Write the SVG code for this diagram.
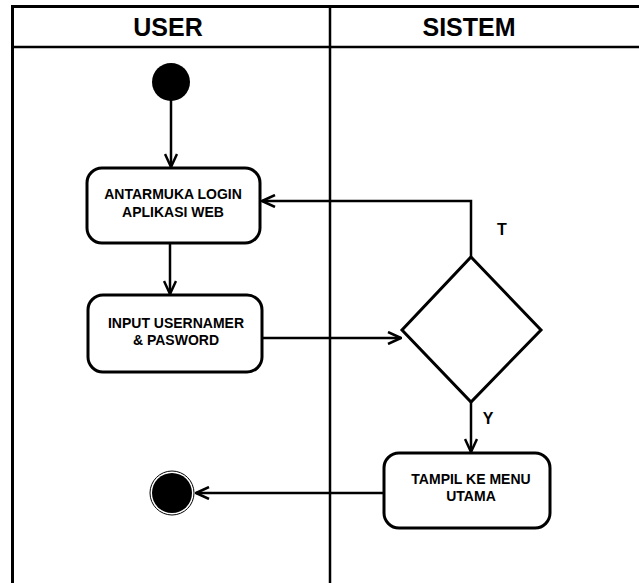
<svg xmlns="http://www.w3.org/2000/svg" width="639" height="583" viewBox="0 0 639 583">
  <style>
    .frame { fill: none; stroke: #000; stroke-width: 3; }
    .lane { fill: none; stroke: #000; stroke-width: 2.5; }
    .hdr { font-family: "Liberation Sans", Arial, sans-serif; font-weight: bold; font-size: 25px; fill: #000; text-anchor: middle; }
    .box { fill: #fff; stroke: #000; stroke-width: 3; }
    .txt { font-family: "Liberation Sans", Arial, sans-serif; font-weight: bold; font-size: 14px; fill: #000; text-anchor: middle; }
    .lbl { font-family: "Liberation Sans", Arial, sans-serif; font-weight: bold; font-size: 16px; fill: #000; text-anchor: middle; }
    .edge { fill: none; stroke: #000; stroke-width: 2.5; marker-end: url(#arrow); }
    .plain { fill: none; stroke: #000; stroke-width: 2.5; }
  </style>
  <defs>
    <marker id="arrow" markerUnits="userSpaceOnUse" viewBox="0 0 16 14" markerWidth="16" markerHeight="14" refX="15" refY="7" orient="auto">
      <path d="M2,1 L15,7 L2,13" fill="none" stroke="#000" stroke-width="2.5" stroke-linejoin="miter"/>
    </marker>
  </defs>
  <rect width="639" height="583" fill="#fff"/>

  <g id="swimlanes">
    <path class="frame" d="M12.5,583 L12.5,6.5 L639,6.5"/>
    <line class="lane" x1="12" y1="47" x2="639" y2="47"/>
    <line class="lane" x1="330" y1="6" x2="330" y2="583"/>
    <text class="hdr" x="168" y="36">USER</text>
    <text class="hdr" x="469" y="36">SISTEM</text>
  </g>

  <g id="connectors">
    <line class="edge" x1="171" y1="100" x2="171" y2="167"/>
    <line class="edge" x1="170" y1="244" x2="170" y2="294"/>
    <line class="edge" x1="262" y1="338" x2="401" y2="338"/>
    <polyline class="edge" points="471,257 471,201 262,201"/>
    <line class="edge" x1="471" y1="402" x2="471" y2="452"/>
    <line class="edge" x1="384" y1="493" x2="196" y2="493"/>
    <text class="lbl" x="502" y="235">T</text>
    <text class="lbl" x="488" y="424">Y</text>
  </g>

  <g id="start">
    <circle cx="171" cy="82" r="19" fill="#000"/>
  </g>

  <g id="antarmuka">
    <rect class="box" x="87" y="168" width="173" height="75" rx="15"/>
    <text class="txt" x="173" y="199">ANTARMUKA LOGIN</text>
    <text class="txt" x="173" y="217">APLIKASI WEB</text>
  </g>

  <g id="input">
    <rect class="box" x="88" y="295" width="174" height="77" rx="15"/>
    <text class="txt" x="176" y="328">INPUT USERNAMER</text>
    <text class="txt" x="176" y="345">&amp; PASWORD</text>
  </g>

  <g id="decision">
    <polygon class="box" points="471,257 541,330 471,402 402,330"/>
  </g>

  <g id="tampil">
    <rect class="box" x="384" y="453" width="166" height="75" rx="15"/>
    <text class="txt" x="471" y="484">TAMPIL KE MENU</text>
    <text class="txt" x="471" y="501">UTAMA</text>
  </g>

  <g id="end">
    <circle cx="172" cy="493" r="22" fill="#fff" stroke="#000" stroke-width="1"/>
    <circle cx="172" cy="493" r="20" fill="#000"/>
  </g>
</svg>
